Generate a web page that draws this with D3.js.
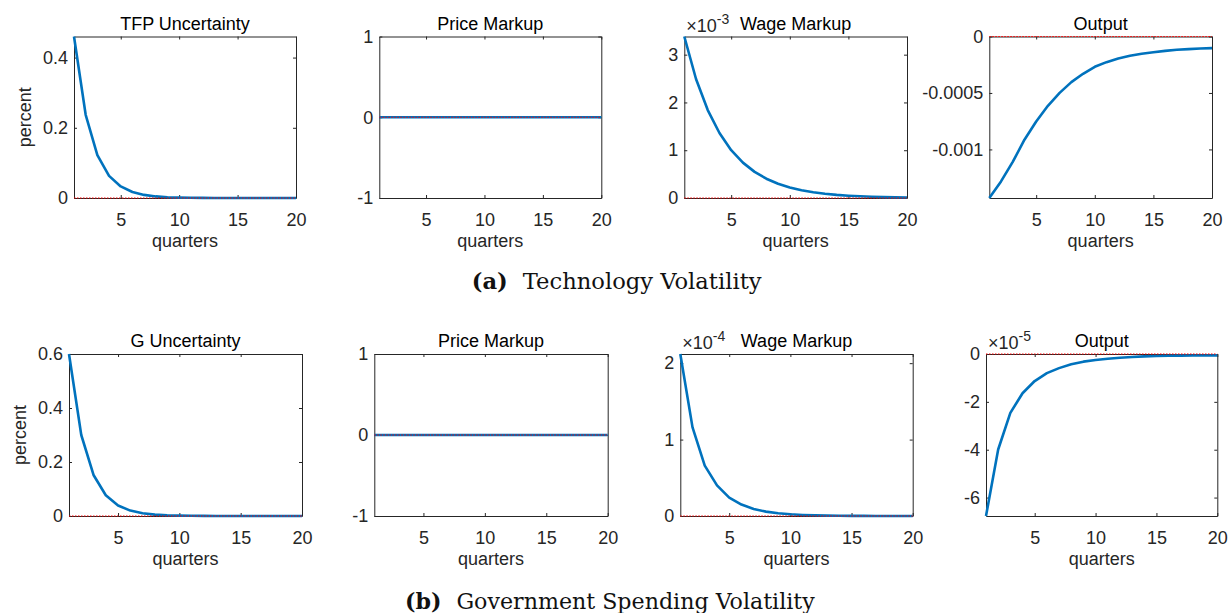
<!DOCTYPE html>
<html>
<head>
<meta charset="utf-8">
<script src="https://cdn.jsdelivr.net/npm/d3@7"></script>
<style>
  body { margin: 0; background: #fff; }
  svg { display: block; }
  .tick text { font-family: "Liberation Sans", Arial, sans-serif; font-size: 18px; fill: #262626; }
  .label { font-family: "Liberation Sans", Arial, sans-serif; font-size: 18px; fill: #262626; }
  .title { font-family: "Liberation Sans", Arial, sans-serif; font-size: 18px; fill: #000; }
  .caption { font-family: "DejaVu Serif", serif; font-size: 20px; fill: #111; }
</style>
</head>
<body>
<svg id="chart" width="1230" height="613"></svg>
<script>
// horizon, quarters 1..20
var quarters = [1, 2, 3, 4, 5, 6, 7, 8, 9, 10, 11, 12, 13, 14, 15, 16, 17, 18, 19, 20];
var xTicks = [5, 10, 15, 20];

// (a) technology volatility
var tfpUncertainty = [0.46, 0.237, 0.122, 0.063, 0.033, 0.017, 0.0088, 0.0045, 0.0023, 0.0012,
                      0.0006, 0.0003, 0.00016, 0.00008, 0.00004, 0.00002, 0.00001, 0.000005, 0.000003, 0.000001];
var priceMarkupA = [0, 0, 0, 0, 0, 0, 0, 0, 0, 0, 0, 0, 0, 0, 0, 0, 0, 0, 0, 0];
// x 10^-3
var wageMarkupA = [3.38, 2.49, 1.84, 1.36, 1.00, 0.74, 0.547, 0.404, 0.298, 0.220,
                   0.162, 0.120, 0.088, 0.065, 0.048, 0.036, 0.026, 0.019, 0.014, 0.011];
var outputA = [-0.00143, -0.001283, -0.00111, -0.000914, -0.000752, -0.000614, -0.000499, -0.000404, -0.00033, -0.000268,
               -0.000227, -0.000195, -0.000171, -0.000153, -0.000139, -0.000127, -0.000118, -0.000112, -0.000106, -0.000103];

// (b) government spending volatility
var gUncertainty = [0.6, 0.30, 0.152, 0.077, 0.039, 0.020, 0.010, 0.005, 0.0026, 0.0013,
                    0.00066, 0.00034, 0.00017, 0.00009, 0.000045, 0.000023, 0.000012, 0.000006, 0.000003, 0.0000015];
var priceMarkupB = [0, 0, 0, 0, 0, 0, 0, 0, 0, 0, 0, 0, 0, 0, 0, 0, 0, 0, 0, 0];
// x 10^-4
var wageMarkupB = [2.12, 1.16, 0.66, 0.40, 0.24, 0.15, 0.092, 0.057, 0.036, 0.022,
                   0.014, 0.009, 0.0055, 0.0035, 0.0022, 0.0014, 0.0009, 0.0006, 0.0004, 0.0002];
// x 10^-5
var outputB = [-6.77, -3.99, -2.46, -1.64, -1.13, -0.80, -0.59, -0.43, -0.32, -0.25,
               -0.20, -0.155, -0.125, -0.10, -0.085, -0.075, -0.068, -0.063, -0.06, -0.057];

var titles = ["TFP Uncertainty", "Price Markup", "Wage Markup", "Output",
              "G Uncertainty", "Price Markup", "Wage Markup", "Output"];
var series = [tfpUncertainty, priceMarkupA, wageMarkupA, outputA,
              gUncertainty, priceMarkupB, wageMarkupB, outputB];
var yTicks = [[0, 0.2, 0.4], [-1, 0, 1], [0, 1, 2, 3], [-0.001, -0.0005, 0],
              [0, 0.2, 0.4, 0.6], [-1, 0, 1], [0, 1, 2], [-6, -4, -2, 0]];
var exponents = [null, null, "-3", null, null, null, "-4", "-5"];
var captions = [["(a)", "Technology Volatility"], ["(b)", "Government Spending Volatility"]];

// axes boxes [left, top, right, bottom]
var boxes = [
    [74, 36.5, 296, 198], [379.3, 36.5, 601.3, 198], [684.3, 36.5, 907, 198], [989.3, 36.5, 1212, 198],
    [69, 354, 302, 516], [374.3, 354, 607.7, 516], [680.3, 354, 912.7, 516], [986, 354, 1217.3, 516]
];

var svg = d3.select("#chart");
svg.append("rect").attr("width", 1230).attr("height", 613).attr("fill", "#fff");

var fmt = function(d) { return String(d); };

boxes.forEach(function(b, i) {
    var width = b[2] - b[0],
        height = b[3] - b[1];
    var vals = series[i];

    var x = d3.scaleLinear().domain([1, 20]).range([0, width]);
    var ext = d3.extent(vals.concat([0]));
    if (ext[0] === ext[1]) ext = [ext[0] - 1, ext[1] + 1];
    var y = d3.scaleLinear().domain(ext).range([height, 0]);

    var g = svg.append("g").attr("transform", "translate(" + b[0] + "," + b[1] + ")");

    var axes = [
        ["bottom", d3.axisBottom(x).tickValues(xTicks).tickFormat(fmt).tickPadding(15), height],
        ["top", d3.axisTop(x).tickValues(xTicks).tickFormat(""), 0],
        ["left", d3.axisLeft(y).tickValues(yTicks[i]).tickFormat(fmt).tickPadding(6), 0],
        ["right", d3.axisRight(y).tickValues(yTicks[i]).tickFormat(""), width]
    ];
    axes.forEach(function(a) {
        var ax = a[1].tickSizeInner(-3).tickSizeOuter(0);
        var t = (a[0] === "bottom" || a[0] === "top") ? "translate(0," + a[2] + ")" : "translate(" + a[2] + ",0)";
        var ag = g.append("g").attr("transform", t).call(ax);
        ag.attr("font-family", null).attr("font-size", null);
        ag.select(".domain").attr("stroke", "#262626").attr("stroke-width", 1);
        ag.selectAll(".tick line").attr("stroke", "#262626");
    });

    var line = d3.line()
        .x(function(d, j) { return x(quarters[j]); })
        .y(function(d) { return y(d); });

    g.append("path")
        .datum(vals)
        .attr("fill", "none")
        .attr("stroke", "#0072BD")
        .attr("stroke-width", 2.6)
        .attr("stroke-linejoin", "round")
        .attr("d", line);

    // zero reference line, on top
    g.append("path")
        .datum(quarters.map(function() { return 0; }))
        .attr("fill", "none")
        .attr("stroke", "#ff0000")
        .attr("stroke-width", 1)
        .attr("stroke-dasharray", "1.5,1.5")
        .attr("d", line);

    g.append("text")
        .attr("class", "title")
        .attr("x", width / 2)
        .attr("y", -7)
        .attr("text-anchor", "middle")
        .text(titles[i]);

    g.append("text")
        .attr("class", "label")
        .attr("x", width / 2)
        .attr("y", height + 49)
        .attr("text-anchor", "middle")
        .text("quarters");

    if (i % 4 === 0) {
        g.append("text")
            .attr("class", "label")
            .attr("transform", "translate(-43," + (height / 2) + ") rotate(-90)")
            .attr("text-anchor", "middle")
            .text("percent");
    }

    if (exponents[i]) {
        var et = g.append("text")
            .attr("class", "label")
            .attr("x", 2)
            .attr("y", -5);
        et.append("tspan").text("\u00d710");
        et.append("tspan").attr("dy", -8).style("font-size", "14px").text(exponents[i]);
    }
});

// sub-figure captions: [left, right, baseline], font size fitted to the span
var capPos = [[471.7, 761.7, 289], [405, 815, 608.5]];
var gap = 15;
captions.forEach(function(c, k) {
    var p = capPos[k];
    var tag = svg.append("text")
        .attr("class", "caption")
        .attr("y", p[2])
        .style("font-weight", "bold")
        .text(c[0]);
    var main = svg.append("text")
        .attr("class", "caption")
        .attr("y", p[2])
        .text(c[1]);
    var w0 = tag.node().getComputedTextLength() + main.node().getComputedTextLength();
    var fs = 20 * (p[1] - p[0] - gap) / w0;
    tag.style("font-size", fs + "px").attr("x", p[0]);
    main.style("font-size", fs + "px")
        .attr("x", p[0] + tag.node().getComputedTextLength() + gap);
});
</script>
</body>
</html>
